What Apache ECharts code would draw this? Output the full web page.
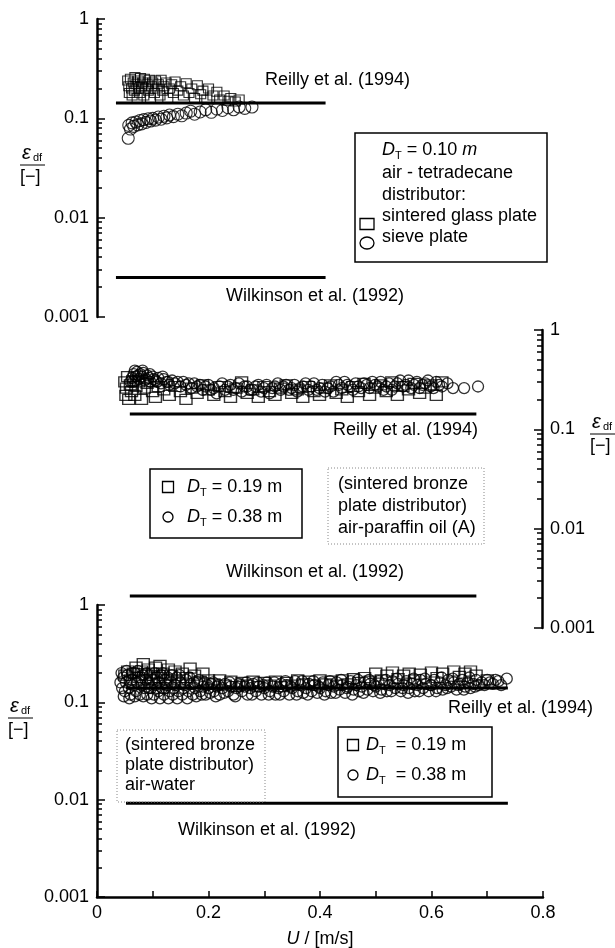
<!DOCTYPE html>
<html>
<head>
<meta charset="utf-8">
<script src="https://cdn.jsdelivr.net/npm/echarts@6/dist/echarts.min.js"></script>
<style>
html, body { margin: 0; padding: 0; background: #fff; }
#chart { width: 615px; height: 948px; }
</style>
</head>
<body>
<div id="chart"></div>
<script>
// ---- tick labels ----
var xTickLabels = ['0', '0.2', '0.4', '0.6', '0.8'];
var yTickLabels = { '0.001': '0.001', '0.01': '0.01', '0.1': '0.1', '1': '1' };
var minorTickVals = [0.002, 0.003, 0.004, 0.005, 0.006, 0.007, 0.008, 0.009,
  0.02, 0.03, 0.04, 0.05, 0.06, 0.07, 0.08, 0.09,
  0.2, 0.3, 0.4, 0.5, 0.6, 0.7, 0.8, 0.9];

// ---- top panel: D_T = 0.10 m, air - tetradecane ----
var topReilly = [[0.034, 0.143], [0.41, 0.143]];
var topWilkinson = [[0.034, 0.0025], [0.41, 0.0025]];
var topGlassPlate = [[0.055,0.24],[0.057,0.21],[0.058,0.18],[0.06,0.25],[0.062,0.2],[0.063,0.17],[0.065,0.23],
  [0.067,0.19],[0.068,0.26],[0.07,0.22],[0.072,0.16],[0.074,0.24],[0.075,0.2],[0.077,0.18],[0.078,0.255],
  [0.08,0.21],[0.082,0.23],[0.084,0.17],[0.085,0.25],[0.087,0.2],[0.09,0.22],[0.092,0.19],[0.094,0.245],
  [0.096,0.16],[0.098,0.21],[0.1,0.23],[0.103,0.18],[0.105,0.24],[0.108,0.2],[0.11,0.22],[0.113,0.17],
  [0.115,0.245],[0.118,0.19],[0.12,0.21],[0.124,0.23],[0.127,0.16],[0.13,0.2],[0.134,0.22],[0.137,0.18],
  [0.14,0.235],[0.145,0.19],[0.15,0.21],[0.155,0.17],[0.16,0.225],[0.165,0.18],[0.17,0.2],[0.175,0.16],
  [0.18,0.215],[0.186,0.175],[0.19,0.19],[0.197,0.155],[0.2,0.2],[0.208,0.17],[0.215,0.185],[0.22,0.155],
  [0.228,0.17],[0.235,0.15],[0.24,0.16],[0.248,0.148],[0.255,0.155]];
var topSievePlate = [[0.056,0.063],[0.057,0.085],[0.06,0.078],[0.063,0.09],[0.066,0.083],[0.07,0.092],
  [0.073,0.086],[0.077,0.095],[0.08,0.088],[0.084,0.097],[0.088,0.091],[0.092,0.099],[0.096,0.094],
  [0.1,0.1],[0.105,0.096],[0.11,0.103],[0.115,0.098],[0.12,0.105],[0.125,0.101],[0.13,0.108],[0.137,0.104],
  [0.145,0.11],[0.152,0.106],[0.16,0.113],[0.168,0.118],[0.175,0.11],[0.185,0.116],[0.195,0.122],
  [0.205,0.115],[0.215,0.124],[0.225,0.12],[0.235,0.128],[0.245,0.122],[0.255,0.13],[0.265,0.126],[0.278,0.13]];

// ---- middle panel: air-paraffin oil (A) ----
var midReilly = [[0.059, 0.143], [0.682, 0.143]];
var midWilkinson = [[0.059, 0.0021], [0.682, 0.0021]];
var midD019 = [[0.05,0.3],[0.052,0.22],[0.053,0.26],[0.055,0.34],[0.057,0.2],[0.06,0.28],[0.062,0.24],
  [0.065,0.31],[0.068,0.22],[0.07,0.27],[0.075,0.3],[0.08,0.2],[0.085,0.26],[0.09,0.29],[0.1,0.24],
  [0.105,0.21],[0.11,0.27],[0.12,0.25],[0.13,0.22],[0.14,0.27],[0.15,0.24],[0.16,0.2],[0.17,0.26],
  [0.18,0.23],[0.19,0.28],[0.2,0.25],[0.21,0.22],[0.22,0.27],[0.23,0.24],[0.24,0.21],[0.25,0.26],
  [0.26,0.3],[0.27,0.23],[0.28,0.25],[0.29,0.21],[0.3,0.27],[0.31,0.24],[0.32,0.22],[0.33,0.26],
  [0.34,0.28],[0.35,0.23],[0.36,0.25],[0.37,0.21],[0.38,0.27],[0.39,0.24],[0.4,0.22],[0.41,0.26],
  [0.42,0.28],[0.43,0.23],[0.44,0.25],[0.45,0.21],[0.46,0.27],[0.47,0.24],[0.48,0.29],[0.49,0.22],
  [0.5,0.26],[0.51,0.28],[0.52,0.24],[0.53,0.3],[0.54,0.22],[0.55,0.27],[0.56,0.25],[0.57,0.29],
  [0.58,0.23],[0.59,0.26],[0.6,0.28],[0.61,0.22],[0.62,0.3]];
var midD038 = [[0.06,0.3],[0.063,0.33],[0.066,0.36],[0.07,0.34],[0.072,0.38],[0.075,0.32],[0.078,0.36],
  [0.08,0.34],[0.083,0.37],[0.086,0.31],[0.09,0.35],[0.093,0.33],[0.096,0.3],[0.1,0.34],[0.105,0.31],
  [0.11,0.33],[0.115,0.29],[0.12,0.32],[0.125,0.3],[0.13,0.28],[0.135,0.31],[0.14,0.29],[0.15,0.27],
  [0.155,0.3],[0.16,0.28],[0.17,0.26],[0.175,0.29],[0.18,0.27],[0.19,0.25],[0.2,0.28],[0.21,0.26],
  [0.215,0.23],[0.22,0.27],[0.23,0.25],[0.24,0.28],[0.25,0.26],[0.26,0.24],[0.27,0.27],[0.28,0.25],
  [0.29,0.28],[0.3,0.26],[0.31,0.23],[0.32,0.27],[0.33,0.25],[0.34,0.28],[0.35,0.26],[0.36,0.24],
  [0.37,0.27],[0.38,0.25],[0.39,0.29],[0.4,0.26],[0.41,0.24],[0.42,0.27],[0.43,0.3],[0.44,0.26],
  [0.45,0.28],[0.46,0.25],[0.47,0.27],[0.48,0.29],[0.49,0.26],[0.5,0.28],[0.51,0.3],[0.52,0.27],
  [0.53,0.25],[0.54,0.29],[0.55,0.27],[0.56,0.31],[0.57,0.28],[0.58,0.26],[0.59,0.29],[0.6,0.27],
  [0.61,0.3],[0.62,0.27],[0.64,0.26],[0.66,0.26],[0.685,0.27],
  [0.065,0.3],[0.068,0.39],[0.074,0.35],[0.082,0.39],[0.088,0.32],[0.095,0.36],[0.102,0.32],[0.108,0.3],
  [0.118,0.34],[0.128,0.3],[0.145,0.3],[0.165,0.29],[0.185,0.28],[0.195,0.27],[0.205,0.25],[0.225,0.29],
  [0.235,0.27],[0.245,0.25],[0.255,0.29],[0.265,0.27],[0.275,0.25],[0.285,0.27],[0.295,0.24],[0.305,0.28],
  [0.315,0.26],[0.325,0.29],[0.335,0.27],[0.345,0.25],[0.355,0.28],[0.365,0.26],[0.375,0.29],[0.385,0.27],
  [0.395,0.25],[0.405,0.28],[0.415,0.26],[0.425,0.24],[0.435,0.28],[0.445,0.3],[0.455,0.27],[0.465,0.29],
  [0.475,0.26],[0.485,0.28],[0.495,0.3],[0.505,0.27],[0.515,0.25],[0.525,0.29],[0.535,0.27],[0.545,0.31],
  [0.555,0.28],[0.565,0.26],[0.575,0.3],[0.585,0.28],[0.595,0.31],[0.605,0.26],[0.615,0.28],[0.63,0.29]];

// ---- bottom panel: air-water ----
var botReilly = [[0.052, 0.14], [0.737, 0.14]];
var botWilkinson = [[0.052, 0.0092], [0.737, 0.0092]];
var botD019 = [[0.05,0.19],[0.055,0.21],[0.06,0.17],[0.065,0.2],[0.07,0.23],[0.075,0.18],[0.08,0.21],
  [0.083,0.25],[0.088,0.19],[0.092,0.22],[0.097,0.17],[0.1,0.2],[0.105,0.23],[0.11,0.18],[0.113,0.24],
  [0.118,0.2],[0.123,0.17],[0.128,0.22],[0.133,0.19],[0.14,0.21],[0.147,0.17],[0.153,0.2],[0.16,0.18],
  [0.167,0.225],[0.175,0.19],[0.185,0.165],[0.19,0.2],[0.2,0.17],[0.21,0.155],[0.22,0.17],[0.23,0.15],
  [0.24,0.165],[0.25,0.145],[0.26,0.16],[0.27,0.15],[0.28,0.165],[0.29,0.145],[0.3,0.16],[0.31,0.15],
  [0.32,0.165],[0.33,0.145],[0.34,0.16],[0.35,0.15],[0.36,0.17],[0.37,0.155],[0.38,0.165],[0.39,0.15],
  [0.4,0.17],[0.41,0.155],[0.42,0.165],[0.43,0.15],[0.44,0.17],[0.45,0.155],[0.46,0.175],[0.47,0.16],
  [0.48,0.18],[0.49,0.165],[0.5,0.2],[0.51,0.17],[0.52,0.19],[0.53,0.205],[0.54,0.175],[0.55,0.19],
  [0.56,0.2],[0.57,0.17],[0.58,0.195],[0.6,0.205],[0.61,0.18],[0.62,0.2],[0.64,0.21],[0.65,0.185],
  [0.66,0.2],[0.67,0.21],[0.68,0.19],[0.7,0.17]];
var botD038 = [[0.042,0.16],[0.045,0.14],[0.047,0.18],[0.05,0.13],[0.052,0.16],[0.055,0.19],[0.057,0.14],
  [0.06,0.12],[0.062,0.17],[0.065,0.15],[0.067,0.2],[0.07,0.13],[0.072,0.16],[0.075,0.18],[0.077,0.12],
  [0.08,0.15],[0.082,0.19],[0.085,0.14],[0.087,0.17],[0.09,0.12],[0.092,0.16],[0.095,0.19],[0.097,0.14],
  [0.1,0.17],[0.102,0.12],[0.105,0.15],[0.107,0.18],[0.11,0.13],[0.112,0.16],[0.115,0.19],[0.117,0.14],
  [0.12,0.12],[0.122,0.17],[0.125,0.15],[0.127,0.18],[0.13,0.13],[0.133,0.16],[0.136,0.12],[0.14,0.15],
  [0.143,0.18],[0.146,0.13],[0.15,0.16],[0.153,0.12],[0.157,0.15],[0.16,0.17],[0.164,0.13],[0.168,0.155],
  [0.172,0.12],[0.176,0.14],[0.18,0.16],[0.185,0.13],[0.19,0.145],[0.195,0.12],[0.2,0.14],[0.205,0.155],
  [0.21,0.13],[0.215,0.145],[0.22,0.12],[0.225,0.14],[0.23,0.155],[0.235,0.13],[0.24,0.145],[0.245,0.12],
  [0.25,0.14],[0.255,0.155],[0.26,0.13],[0.265,0.145],[0.27,0.12],[0.275,0.14],[0.28,0.155],[0.285,0.13],
  [0.29,0.145],[0.295,0.12],[0.3,0.14],[0.305,0.16],[0.31,0.13],[0.315,0.145],[0.32,0.12],[0.325,0.14],
  [0.33,0.155],[0.335,0.13],[0.34,0.15],[0.345,0.12],[0.35,0.14],[0.355,0.165],[0.36,0.13],[0.365,0.15],
  [0.37,0.125],[0.375,0.14],[0.38,0.155],[0.385,0.13],[0.39,0.15],[0.395,0.125],[0.4,0.14],[0.405,0.16],
  [0.41,0.13],[0.415,0.15],[0.42,0.125],[0.425,0.145],[0.43,0.16],[0.435,0.135],[0.44,0.15],[0.445,0.125],
  [0.45,0.145],[0.455,0.165],[0.46,0.135],[0.465,0.15],[0.47,0.13],[0.475,0.145],[0.48,0.16],[0.485,0.135],
  [0.49,0.155],[0.495,0.13],[0.5,0.145],[0.505,0.165],[0.51,0.135],[0.515,0.155],[0.52,0.13],[0.525,0.15],
  [0.53,0.165],[0.535,0.14],[0.54,0.155],[0.545,0.13],[0.55,0.15],[0.555,0.165],[0.56,0.14],[0.565,0.155],
  [0.57,0.13],[0.575,0.15],[0.58,0.17],[0.585,0.14],[0.59,0.155],[0.595,0.13],[0.6,0.15],[0.605,0.17],
  [0.61,0.14],[0.615,0.16],[0.62,0.135],[0.625,0.15],[0.63,0.17],[0.635,0.145],[0.64,0.16],[0.645,0.135],
  [0.65,0.155],[0.655,0.17],[0.66,0.145],[0.665,0.16],[0.67,0.14],[0.675,0.155],[0.68,0.17],[0.685,0.15],
  [0.69,0.16],[0.7,0.17],[0.71,0.155],[0.72,0.165],[0.735,0.175],
  [0.044,0.2],[0.048,0.115],[0.053,0.21],[0.058,0.11],[0.063,0.2],[0.068,0.115],[0.073,0.21],[0.078,0.17],
  [0.083,0.115],[0.088,0.2],[0.093,0.14],[0.098,0.11],[0.103,0.2],[0.108,0.14],[0.113,0.11],[0.118,0.2],
  [0.123,0.14],[0.128,0.11],[0.134,0.19],[0.138,0.14],[0.144,0.11],[0.148,0.19],[0.155,0.14],[0.162,0.11],
  [0.166,0.18],[0.174,0.16],[0.178,0.115],[0.183,0.17],[0.188,0.12],[0.193,0.16],[0.198,0.15],
  [0.203,0.125],[0.208,0.16],[0.213,0.115],[0.218,0.15],[0.228,0.125],[0.238,0.16],[0.248,0.115],[0.258,0.15],
  [0.268,0.16],[0.278,0.12],[0.288,0.16],[0.298,0.15],[0.308,0.12],[0.318,0.16],[0.328,0.12],[0.338,0.165],
  [0.348,0.145],[0.358,0.12],[0.368,0.165],[0.378,0.12],[0.388,0.165],[0.398,0.145],[0.408,0.12],[0.418,0.165],
  [0.428,0.125],[0.438,0.17],[0.448,0.14],[0.458,0.12],[0.468,0.17],[0.478,0.125],[0.488,0.17],[0.498,0.15],
  [0.508,0.125],[0.518,0.17],[0.528,0.13],[0.538,0.175],[0.548,0.14],[0.558,0.125],[0.568,0.175],[0.578,0.13],
  [0.588,0.175],[0.598,0.15],[0.608,0.13],[0.618,0.18],[0.628,0.14],[0.638,0.175],[0.648,0.15],[0.658,0.135],
  [0.668,0.18],[0.678,0.145],[0.695,0.15],[0.705,0.16],[0.715,0.17],[0.725,0.15]];

var FONT = 'Liberation Sans';
var FS = 18;
var chart = echarts.init(document.getElementById('chart'));

function xAxisHidden(gi) {
  return { gridIndex: gi, type: 'value', min: 0, max: 0.8, show: false };
}
function yMajor(gi, pos) {
  return {
    gridIndex: gi, type: 'log', logBase: 10, min: 0.001, max: 1, position: pos,
    axisLine: { show: true, onZero: false, lineStyle: { color: '#000', width: 2.5 } },
    axisTick: { show: true, inside: true, length: 8, lineStyle: { color: '#000', width: 1.5 } },
    axisLabel: { color: '#000', fontFamily: FONT, fontSize: FS, margin: 8,
      formatter: function (v) { return yTickLabels[String(+v.toPrecision(3))] || ''; } },
    splitLine: { show: false }
  };
}
function yMinor(gi, pos) {
  return {
    gridIndex: gi, type: 'log', logBase: 10, min: 0.001, max: 1, position: pos,
    axisLine: { show: false, onZero: false },
    axisTick: { show: true, inside: true, length: 5, customValues: minorTickVals,
      lineStyle: { color: '#000', width: 1.5 } },
    axisLabel: { show: false },
    splitLine: { show: false }
  };
}
function squares(data, xi, yi, size, bw) {
  return { type: 'scatter', xAxisIndex: xi, yAxisIndex: yi, data: data, symbol: 'rect', symbolSize: size,
    itemStyle: { color: 'rgba(0,0,0,0)', borderColor: '#000', borderWidth: bw }, silent: true };
}
function circles(data, xi, yi, size, bw) {
  return { type: 'scatter', xAxisIndex: xi, yAxisIndex: yi, data: data, symbol: 'circle', symbolSize: size,
    itemStyle: { color: 'rgba(0,0,0,0)', borderColor: '#000', borderWidth: bw }, silent: true };
}
function refLine(data, xi, yi) {
  return { type: 'line', xAxisIndex: xi, yAxisIndex: yi, data: data, showSymbol: false, symbol: 'none',
    lineStyle: { color: '#000', width: 3 }, silent: true, z: 1 };
}

function txt(x, y, s, extra) {
  var st = { text: s, x: 0, y: 0, font: FS + 'px "' + FONT + '"', fill: '#000',
    align: 'left', textAlign: 'left', verticalAlign: 'middle', textVerticalAlign: 'middle' };
  if (extra) for (var k in extra) st[k] = extra[k];
  return { type: 'text', x: x, y: y, style: st, z: 100 };
}
var dRich = {
  i: { fontFamily: FONT, fontSize: FS, fontStyle: 'italic', fill: '#000' },
  s: { fontFamily: FONT, fontSize: 11, fill: '#000', padding: [11, 0, 0, 0] },
  n: { fontFamily: FONT, fontSize: FS, fill: '#000' }
};
function yTitle(x, y) {
  return [
    txt(x, y - 12, 'ε', { font: 'italic 20px "' + FONT + '"' }),
    txt(x + 11, y - 7, 'df', { font: '11px "' + FONT + '"' }),
    { type: 'line', shape: { x1: x - 2, y1: y, x2: x + 23, y2: y }, style: { stroke: '#000', lineWidth: 1 } },
    txt(x - 2, y + 12, '[−]', { font: '18px "' + FONT + '"' })
  ];
}
function box(x, y, w, h, dotted) {
  return { type: 'rect', shape: { x: x, y: y, width: w, height: h },
    style: dotted ? { fill: 'none', stroke: '#888', lineWidth: 1, lineDash: [1, 2] }
                  : { fill: 'none', stroke: '#000', lineWidth: 1.5 }, z: 90 };
}
function sq(cx, cy, w, h) {
  return { type: 'rect', shape: { x: cx - w / 2, y: cy - h / 2, width: w, height: h },
    style: { fill: 'none', stroke: '#000', lineWidth: 1.3 }, z: 100 };
}
function ci(cx, cy, rx, ry) {
  return { type: 'ellipse', shape: { cx: cx, cy: cy, rx: rx, ry: ry },
    style: { fill: 'none', stroke: '#000', lineWidth: 1.3 }, z: 100 };
}

var graphics = [
  // top panel texts
  txt(265, 80, 'Reilly et al. (1994)'),
  txt(226, 296, 'Wilkinson et al. (1992)'),
  box(355, 133, 192, 129, false),
  txt(382, 150, '{i|D}{s|T}{n| = 0.10 }{i|m}', { rich: dRich }),
  txt(382, 173, 'air - tetradecane'),
  txt(382, 195, 'distributor:'),
  txt(382, 216, 'sintered glass plate'),
  txt(382, 237, 'sieve plate'),
  sq(367, 224, 14, 11),
  ci(367, 243, 7, 6),
  // middle panel texts
  txt(478, 430, 'Reilly et al. (1994)', { align: 'right', textAlign: 'right' }),
  txt(226, 572, 'Wilkinson et al. (1992)'),
  box(150, 469, 152, 69, false),
  sq(168, 487, 11, 11),
  ci(168, 517, 5, 5),
  txt(187, 487, '{i|D}{s|T}{n| = 0.19 m}', { rich: dRich }),
  txt(187, 517, '{i|D}{s|T}{n| = 0.38 m}', { rich: dRich }),
  box(328, 468, 156, 76, true),
  txt(338, 484, '(sintered bronze'),
  txt(338, 506, 'plate distributor)'),
  txt(338, 528, 'air-paraffin oil (A)'),
  // bottom panel texts
  txt(448, 708, 'Reilly et al. (1994)'),
  box(338, 727, 154, 70, false),
  sq(353, 745, 11, 11),
  ci(353, 775, 5, 5),
  txt(366, 745, '{i|D}{s|T}{n|  = 0.19 m}', { rich: dRich }),
  txt(366, 775, '{i|D}{s|T}{n|  = 0.38 m}', { rich: dRich }),
  box(117, 730, 148, 72, true),
  txt(125, 745, '(sintered bronze'),
  txt(125, 765, 'plate distributor)'),
  txt(125, 785, 'air-water'),
  txt(178, 830, 'Wilkinson et al. (1992)')
];
graphics = graphics.concat(yTitle(22, 165), yTitle(592, 434), yTitle(10, 718));

var option = {
  animation: false,
  backgroundColor: '#fff',
  textStyle: { fontFamily: FONT },
  grid: [
    { left: 97, top: 19, width: 446, height: 298, containLabel: false, outerBoundsMode: 'none' },
    { left: 97, top: 330, width: 445, height: 298, containLabel: false, outerBoundsMode: 'none' },
    { left: 97, top: 605, width: 446, height: 292, containLabel: false, outerBoundsMode: 'none' }
  ],
  xAxis: [
    xAxisHidden(0),
    xAxisHidden(1),
    {
      gridIndex: 2, type: 'value', min: 0, max: 0.8, interval: 0.1, position: 'bottom',
      axisLine: { show: true, onZero: false, lineStyle: { color: '#000', width: 2.5 } },
      axisTick: { show: true, inside: true, length: 6, lineStyle: { color: '#000', width: 1.5 } },
      axisLabel: { color: '#000', fontFamily: FONT, fontSize: FS, margin: 7,
        formatter: function (v) {
          var k = v * 5;
          return Math.abs(k - Math.round(k)) < 1e-6 ? xTickLabels[Math.round(k)] : '';
        } },
      splitLine: { show: false },
      name: '{i|U} / [m/s]', nameLocation: 'middle', nameGap: 33,
      nameTextStyle: { color: '#000', fontFamily: FONT, fontSize: FS,
        rich: { i: { fontFamily: FONT, fontSize: FS, fontStyle: 'italic', color: '#000' } } }
    }
  ],
  yAxis: [
    yMajor(0, 'left'), yMinor(0, 'left'),
    yMajor(1, 'right'), yMinor(1, 'right'),
    yMajor(2, 'left'), yMinor(2, 'left')
  ],
  series: [
    refLine(topReilly, 0, 0), refLine(topWilkinson, 0, 0),
    squares(topGlassPlate, 0, 0, [10, 9], 1.1), circles(topSievePlate, 0, 0, 12, 1.1),
    refLine(midReilly, 1, 2), refLine(midWilkinson, 1, 2),
    squares(midD019, 1, 2, [12, 10], 1.3), circles(midD038, 1, 2, 11, 1.3),
    refLine(botReilly, 2, 4), refLine(botWilkinson, 2, 4),
    squares(botD019, 2, 4, [12, 10], 1.3), circles(botD038, 2, 4, 11, 1.3)
  ],
  graphic: { elements: graphics }
};
chart.setOption(option);
</script>
</body>
</html>
